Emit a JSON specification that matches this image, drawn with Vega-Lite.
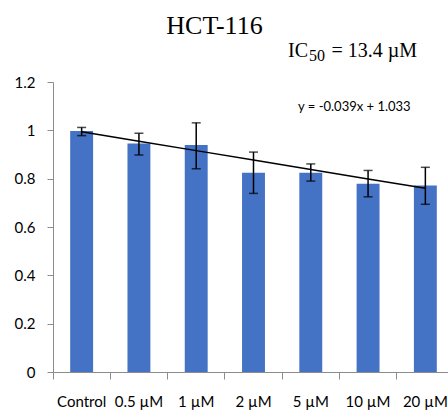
{
  "$schema": "https://vega.github.io/schema/vega-lite/v6.json",
  "autosize": "none",
  "width": 401,
  "height": 290,
  "padding": {"left": 53, "top": 82, "right": 0, "bottom": 48},
  "background": "white",
  "title": {
    "text": "HCT-116",
    "font": "Liberation Serif",
    "fontSize": 26,
    "fontWeight": "normal",
    "color": "black",
    "anchor": "middle",
    "dx": -39,
    "baseline": "alphabetic",
    "offset": -19
  },
  "config": {
    "view": {"stroke": null},
    "axis": {"labelFont": "Lato", "labelFontSize": 15, "labelColor": "#000000", "domainColor": "#8c8c8c", "tickColor": "#8c8c8c", "grid": false, "title": null}
  },
  "data": {
    "values": [
      {"dose": "Control", "mean": 0.997, "lo": 0.978, "hi": 1.012, "trend": 0.994},
      {"dose": "0.5 µM", "mean": 0.946, "lo": 0.898, "hi": 0.988, "trend": 0.955},
      {"dose": "1 µM", "mean": 0.939, "lo": 0.841, "hi": 1.031, "trend": 0.916},
      {"dose": "2 µM", "mean": 0.825, "lo": 0.739, "hi": 0.910, "trend": 0.877},
      {"dose": "5 µM", "mean": 0.825, "lo": 0.790, "hi": 0.861, "trend": 0.838},
      {"dose": "10 µM", "mean": 0.779, "lo": 0.725, "hi": 0.834, "trend": 0.799},
      {"dose": "20 µM", "mean": 0.772, "lo": 0.694, "hi": 0.847, "trend": 0.760}
    ]
  },
  "encoding": {
    "x": {
      "field": "dose", "type": "nominal", "sort": null,
      "scale": {"paddingInner": 0, "paddingOuter": 0},
      "axis": {"labelAngle": 0, "tickSize": 7, "labelPadding": 15, "bandPosition": 0}
    }
  },
  "layer": [
    {
      "mark": {"type": "bar", "color": "#4472C4", "width": {"band": 0.4}},
      "encoding": {
        "y": {
          "field": "mean", "type": "quantitative",
          "scale": {"domain": [0, 1.2]},
          "axis": {"values": [0, 0.2, 0.4, 0.6, 0.8, 1, 1.2], "format": ".1~f", "tickSize": 6, "labelPadding": 12}
        }
      }
    },
    {
      "mark": {"type": "rule", "color": "black", "strokeWidth": 1.5},
      "encoding": {"y": {"field": "lo", "type": "quantitative"}, "y2": {"field": "hi"}}
    },
    {
      "mark": {"type": "tick", "color": "black", "thickness": 1.5, "size": 9, "orient": "horizontal"},
      "encoding": {"y": {"field": "lo", "type": "quantitative"}}
    },
    {
      "mark": {"type": "tick", "color": "black", "thickness": 1.5, "size": 9, "orient": "horizontal"},
      "encoding": {"y": {"field": "hi", "type": "quantitative"}}
    },
    {
      "mark": {"type": "line", "color": "black", "strokeWidth": 1.5},
      "encoding": {"y": {"field": "trend", "type": "quantitative"}}
    },
    {
      "data": {"values": [{"dose": "10 µM", "y": 1.081, "label": "y = -0.039x + 1.033"}]},
      "mark": {"type": "text", "font": "Lato", "fontSize": 13, "align": "left", "baseline": "alphabetic", "dx": -70, "color": "black"},
      "encoding": {"y": {"field": "y", "type": "quantitative"}, "text": {"field": "label"}}
    },
    {
      "data": {"values": [{"dose": "10 µM", "y": 1.302, "label": "IC"}]},
      "mark": {"type": "text", "font": "Liberation Serif", "fontSize": 20, "align": "left", "baseline": "alphabetic", "dx": -80, "color": "black", "clip": false},
      "encoding": {"y": {"field": "y", "type": "quantitative"}, "text": {"field": "label"}}
    },
    {
      "data": {"values": [{"dose": "10 µM", "y": 1.302, "label": "50"}]},
      "mark": {"type": "text", "font": "Liberation Serif", "fontSize": 16, "align": "left", "baseline": "alphabetic", "dx": -59, "dy": 3.5, "color": "black"},
      "encoding": {"y": {"field": "y", "type": "quantitative"}, "text": {"field": "label"}}
    },
    {
      "data": {"values": [{"dose": "10 µM", "y": 1.302, "label": "= 13.4 µM"}]},
      "mark": {"type": "text", "font": "Liberation Serif", "fontSize": 20, "align": "left", "baseline": "alphabetic", "dx": -36.5, "color": "black"},
      "encoding": {"y": {"field": "y", "type": "quantitative"}, "text": {"field": "label"}}
    }
  ]
}
